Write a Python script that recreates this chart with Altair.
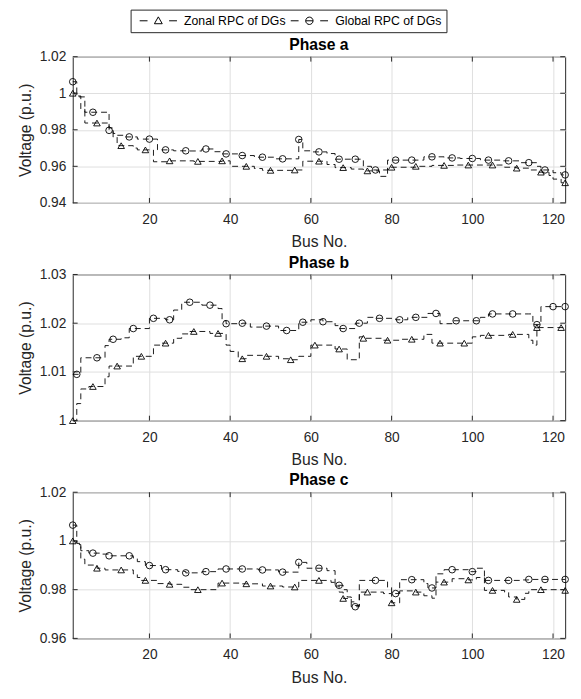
import altair as alt
import pandas as pd

SERIES = ["Zonal RPC of DGs", "Global RPC of DGs"]
X_TICKS = [20, 40, 60, 80, 100, 120]
Y_TICKS_A = [0.94, 0.96, 0.98, 1.0, 1.02]
Y_TICKS_B = [1.0, 1.01, 1.02, 1.03]
Y_TICKS_C = [0.96, 0.98, 1.0, 1.02]

# ---- Phase a ----
ZA_BUS = [1, 2, 4, 10, 11, 12, 16, 17, 21, 25, 31, 38, 40, 46, 48, 56, 58, 64, 66, 70, 73, 77, 79, 86, 90, 96, 108, 111, 114, 116, 119, 120, 122, 123]
ZA_V = [1.000, 0.998, 0.9837, 0.981, 0.976, 0.9713, 0.9700, 0.969, 0.9625, 0.963, 0.9627, 0.963, 0.960, 0.9588, 0.9578, 0.958, 0.9628, 0.9610, 0.9593, 0.9585, 0.9575, 0.9545, 0.9595, 0.960, 0.9605, 0.9607, 0.9595, 0.959, 0.958, 0.9568, 0.955, 0.953, 0.951, 0.951]
ZA_MK = [1, 7, 13, 19, 25, 32, 38, 44, 50, 56, 62, 68, 74, 80, 86, 93, 99, 105, 111, 117, 123]

GA_BUS = [1, 2, 3, 4, 10, 11, 12, 14, 17, 22, 26, 30, 33, 36, 38, 42, 46, 51, 57, 58, 60, 64, 66, 73, 75, 79, 88, 93, 97, 102, 107, 112, 116, 117, 120, 122, 123]
GA_V = [1.0063, 0.9985, 0.9914, 0.9896, 0.9797, 0.978, 0.977, 0.9761, 0.9749, 0.969, 0.9685, 0.9684, 0.9695, 0.968, 0.9668, 0.9659, 0.965, 0.9641, 0.9747, 0.9685, 0.9679, 0.967, 0.9639, 0.960, 0.958, 0.9634, 0.9652, 0.9646, 0.9643, 0.9634, 0.963, 0.962, 0.960, 0.958, 0.9565, 0.9553, 0.9553]
GA_MK = [1, 6, 10, 15, 20, 24, 29, 34, 39, 43, 48, 53, 57, 62, 67, 71, 76, 81, 85, 90, 95, 100, 104, 109, 114, 118, 123]

# ---- Phase b ----
ZB_BUS = [1, 2, 3, 5, 9, 10, 16, 21, 23, 26, 28, 30, 35, 39, 40, 42, 44, 48, 52, 55, 57, 60, 66, 69, 72, 73, 78, 82, 88, 90, 100, 102, 109, 114, 115, 116, 123]
ZB_V = [1.000, 1.0035, 1.0065, 1.007, 1.0090, 1.0112, 1.0132, 1.0155, 1.0159, 1.0169, 1.0178, 1.0183, 1.0179, 1.0155, 1.0142, 1.0127, 1.0134, 1.0132, 1.0127, 1.0125, 1.0132, 1.0155, 1.0147, 1.0125, 1.0172, 1.0169, 1.0165, 1.0167, 1.0177, 1.0159, 1.0172, 1.0175, 1.0177, 1.0165, 1.0155, 1.0191, 1.0191]
ZB_MK = [1, 6, 12, 18, 24, 31, 37, 43, 49, 55, 61, 67, 73, 79, 85, 92, 98, 104, 110, 116, 122]

GB_BUS = [1, 3, 9, 10, 13, 15, 20, 24, 26, 28, 33, 37, 38, 39, 43, 45, 48, 52, 57, 60, 63, 66, 67, 71, 74, 76, 81, 84, 89, 92, 95, 102, 104, 114, 115, 117, 123]
GB_V = [1.0095, 1.0129, 1.0154, 1.0167, 1.0170, 1.0189, 1.021, 1.0207, 1.0227, 1.0243, 1.0237, 1.0230, 1.0205, 1.0199, 1.0200, 1.0192, 1.0194, 1.0185, 1.0202, 1.0207, 1.0203, 1.0195, 1.0189, 1.0200, 1.0212, 1.0210, 1.0207, 1.0212, 1.0220, 1.0199, 1.0205, 1.0212, 1.0219, 1.0219, 1.0197, 1.0234, 1.0234]
GB_MK = [2, 7, 11, 16, 21, 25, 30, 35, 39, 43, 49, 54, 58, 63, 68, 72, 77, 82, 86, 91, 96, 101, 105, 110, 116, 120, 123]

# ---- Phase c ----
ZC_BUS = [1, 2, 3, 4, 7, 9, 16, 17, 18, 22, 25, 28, 30, 37, 43, 48, 53, 57, 65, 66, 67, 68, 70, 71, 72, 78, 80, 82, 86, 88, 90, 91, 95, 99, 101, 103, 108, 109, 111, 113, 114, 123]
ZC_V = [1.000, 0.9985, 0.9925, 0.9901, 0.9888, 0.9881, 0.9865, 0.985, 0.9838, 0.9825, 0.9822, 0.981, 0.980, 0.9827, 0.9824, 0.9815, 0.9811, 0.9838, 0.983, 0.9815, 0.979, 0.9764, 0.975, 0.9735, 0.979, 0.9784, 0.9746, 0.9795, 0.979, 0.9775, 0.9765, 0.9831, 0.9845, 0.984, 0.985, 0.9797, 0.979, 0.977, 0.976, 0.9785, 0.980, 0.9797]
ZC_MK = [1, 7, 13, 19, 25, 32, 38, 44, 50, 56, 62, 68, 74, 80, 86, 93, 99, 105, 111, 117, 123]

GC_BUS = [1, 2, 3, 5, 8, 10, 16, 17, 19, 23, 27, 29, 33, 37, 47, 52, 57, 59, 64, 66, 68, 69, 70, 72, 79, 80, 82, 88, 89, 91, 93, 99, 101, 103, 112, 114, 123]
GC_V = [1.0065, 0.999, 0.996, 0.995, 0.9946, 0.9939, 0.993, 0.9915, 0.9899, 0.9882, 0.9875, 0.9869, 0.9874, 0.9885, 0.9881, 0.9872, 0.9912, 0.9888, 0.9878, 0.9818, 0.980, 0.977, 0.973, 0.9838, 0.981, 0.9784, 0.9841, 0.9825, 0.9807, 0.9865, 0.9882, 0.9874, 0.9888, 0.9838, 0.984, 0.9842, 0.9842]
GC_MK = [1, 6, 10, 15, 20, 24, 29, 34, 39, 43, 48, 53, 57, 62, 67, 71, 76, 81, 85, 90, 95, 100, 104, 109, 114, 118, 123]

FONT = "Liberation Sans"
INK = "#262626"
W, H = 502, 149
TICK = 5

# legend symbols: dash - marker - dash (unit = sqrt(size)/2 px)
PATH_Z = "M-3.8,0H-2.2M2.2,0H3.8M-0.8,0.6L0,-0.8L0.8,0.6Z"
PATH_G = "M-3.8,0H-2.2M2.2,0H3.8M-0.75,0A0.75,0.75,0,1,0,0.75,0A0.75,0.75,0,1,0,-0.75,0ZM-0.75,0H0.75"


def step_lookup(buses, vals, b):
    v = vals[0]
    for bb, vv in zip(buses, vals):
        if bb <= b:
            v = vv
    return v


def panel(name, z, g, yt, title_pad=7.5):
    zb, zv, zm = z
    gb, gv, gm = g
    line_df = pd.concat([
        pd.DataFrame({"bus": zb, "v": zv, "s": SERIES[0]}),
        pd.DataFrame({"bus": gb, "v": gv, "s": SERIES[1]}),
    ])
    tri_df = pd.DataFrame({"bus": zm, "v": [step_lookup(zb, zv, b) for b in zm]})
    cir_df = pd.DataFrame({"bus": gm, "v": [step_lookup(gb, gv, b) for b in gm]})
    xs = alt.Scale(domain=[1, 123], nice=False, zero=False)
    ys = alt.Scale(domain=[yt[0], yt[-1]], nice=False, zero=False)
    x = alt.X("bus:Q", scale=xs,
              axis=alt.Axis(values=X_TICKS, title="Bus No.", titlePadding=title_pad))
    y = alt.Y("v:Q", scale=ys,
              axis=alt.Axis(values=yt, format="~g", title="Voltage (p.u.)"))
    lines = alt.Chart(line_df).mark_line(
        interpolate="step-after", strokeDash=[6, 4], color="black", strokeWidth=0.9
    ).encode(x=x, y=y, detail="s:N")
    tri = alt.Chart(tri_df).mark_point(
        shape="triangle-up", filled=False, color="black", size=45, strokeWidth=0.9, opacity=1
    ).encode(x=x, y=y)
    cir = alt.Chart(cir_df).mark_point(
        shape="circle", filled=False, color="black", size=45, strokeWidth=0.9, opacity=1
    ).encode(x=x, y=y)
    # inward box ticks (MATLAB style), positioned through the same scales
    xt_df = pd.DataFrame({"bus": X_TICKS})
    yt_df = pd.DataFrame({"v": yt})
    tk_bot = alt.Chart(xt_df).mark_rule(color=INK, strokeWidth=1).encode(
        x=x, y=alt.value(H), y2=alt.value(H - TICK))
    tk_top = alt.Chart(xt_df).mark_rule(color=INK, strokeWidth=1).encode(
        x=x, y=alt.value(0), y2=alt.value(TICK))
    tk_left = alt.Chart(yt_df).mark_rule(color=INK, strokeWidth=1).encode(
        y=y, x=alt.value(0), x2=alt.value(TICK))
    tk_right = alt.Chart(yt_df).mark_rule(color=INK, strokeWidth=1).encode(
        y=y, x=alt.value(W), x2=alt.value(W - TICK))
    return alt.layer(lines, tri, cir, tk_bot, tk_top, tk_left, tk_right).properties(
        width=W, height=H,
        title=alt.TitleParams(name, fontSize=16, fontWeight="bold", font=FONT, color="black",
                              anchor="middle", frame="group", offset=-16, baseline="alphabetic"),
    )


leg_df = pd.DataFrame({"s": SERIES})
legend_chart = alt.Chart(leg_df).mark_point(
    filled=False, color="black", size=100, strokeWidth=1, opacity=1
).encode(
    shape=alt.Shape("s:N", scale=alt.Scale(domain=SERIES, range=[PATH_Z, PATH_G]),
                    legend=alt.Legend(orient="none", legendX=59, legendY=0, direction="horizontal",
                                      title=None, labelFont=FONT, labelFontSize=12.5, labelColor="black",
                                      strokeColor=INK, padding=5, symbolSize=100, symbolStrokeWidth=1,
                                      symbolOffset=17, labelOffset=20, columnPadding=-8))
).transform_filter("false").properties(width=W, height=22, view=alt.ViewBackground(stroke="transparent"))

pa = panel("Phase a", (ZA_BUS, ZA_V, ZA_MK), (GA_BUS, GA_V, GA_MK), Y_TICKS_A)
pb = panel("Phase b", (ZB_BUS, ZB_V, ZB_MK), (GB_BUS, GB_V, GB_MK), Y_TICKS_B)
pc = panel("Phase c", (ZC_BUS, ZC_V, ZC_MK), (GC_BUS, GC_V, GC_MK), Y_TICKS_C)

chart = alt.vconcat(legend_chart, pa, pb, pc, spacing=4).properties(
    padding={"left": 9, "top": -6, "right": 2, "bottom": 0}
).configure_axis(
    labelFont=FONT, labelFontSize=14, labelColor=INK, titleFont=FONT, titleFontSize=16,
    titleFontWeight="normal", titleColor=INK, grid=True, gridColor="#dedede", gridWidth=1,
    domain=False, ticks=False, tickSize=0
).configure_axisX(labelPadding=10).configure_axisY(labelPadding=7, titlePadding=6).configure_view(
    stroke=INK, strokeWidth=1
)

chart.save("out.html", embed_options={"renderer": "svg", "actions": False})
